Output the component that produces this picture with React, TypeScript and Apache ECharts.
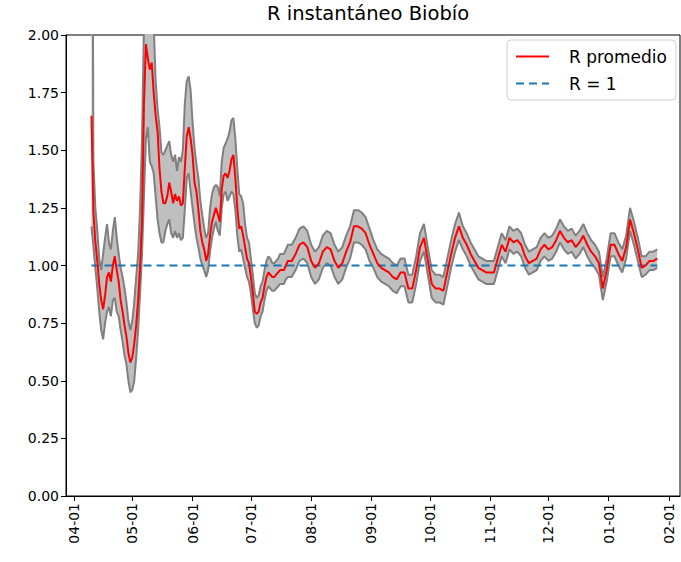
import React, { useEffect, useRef } from "react";
import * as echarts from "echarts";

// Day offsets counted from 2020-04-01
const START_Y = 2020;
const START_M = 3; // April (0-based)
const START_D = 1;

const DAYS = [
  9, 10, 11, 12, 13, 14, 15, 16, 17, 18, 19, 20, 21, 22, 23, 24, 25, 26, 27, 28, 29,
  30, 31, 32, 33, 34, 35, 36, 37, 38, 39, 40, 41, 42, 43, 44, 45, 46, 47, 48, 49,
  50, 51, 52, 53, 54, 55, 56, 57, 58, 59, 60, 61, 62, 63, 64, 65, 66, 67, 68, 69,
  70, 71, 72, 73, 74, 75, 76, 77, 78, 79, 80, 81, 82, 83, 84, 85, 86, 87, 88, 89,
  90, 91, 92, 93, 94, 95, 96, 97, 98, 99, 100, 101, 102, 103, 104, 105, 106, 107, 108, 109,
  110, 112, 114, 116, 118, 120, 122, 124, 126, 128, 130, 132, 134, 136, 138, 140, 142, 144, 146, 148,
  150, 152, 154, 156, 158, 160, 162, 164, 166, 168, 170, 172, 174, 176, 178, 180, 182, 184, 186, 188,
  190, 192, 194, 196, 198, 200, 202, 204, 206, 208, 210, 212, 214, 216, 218, 220, 222, 224, 226, 228,
  230, 232, 234, 236, 238, 240, 242, 244, 246, 248, 250, 252, 254, 256, 258, 260, 262, 264, 266, 268,
  270, 272, 274, 276, 278, 280, 282, 284, 286, 288, 290, 292, 294, 296, 298, 300,
];

const MEAN = [
  1.65, 1.23, 1.10, 1.02, 0.92, 0.85, 0.81, 0.87, 0.95, 0.97, 0.93, 1.00, 1.04, 0.98, 0.93, 0.85, 0.80, 0.74, 0.69, 0.62, 0.58,
  0.60, 0.66, 0.74, 0.85, 1.00, 1.20, 1.70, 1.96, 1.90, 1.85, 1.88, 1.75, 1.65, 1.58, 1.42, 1.32, 1.27, 1.27, 1.30, 1.36,
  1.32, 1.27, 1.31, 1.28, 1.30, 1.26, 1.27, 1.42, 1.56, 1.60, 1.55, 1.48, 1.36, 1.32, 1.24, 1.15, 1.10, 1.07, 1.02, 1.05,
  1.13, 1.19, 1.22, 1.25, 1.22, 1.19, 1.33, 1.39, 1.40, 1.38, 1.41, 1.46, 1.48, 1.38, 1.25, 1.16, 1.17, 1.13, 1.08, 1.03,
  1.01, 0.95, 0.88, 0.80, 0.79, 0.80, 0.84, 0.86, 0.91, 0.95, 0.97, 0.96, 0.95, 0.95, 0.96, 0.97, 0.98, 0.98, 0.98, 1.00,
  1.02, 1.02, 1.05, 1.09, 1.10, 1.08, 1.02, 0.99, 1.01, 1.06, 1.08, 1.07, 1.02, 0.99, 1.01, 1.06, 1.10, 1.17, 1.17, 1.16,
  1.14, 1.09, 1.05, 1.01, 0.99, 0.98, 0.97, 0.95, 0.94, 0.97, 0.97, 0.90, 0.90, 0.98, 1.08, 1.12, 1.02, 0.92, 0.90, 0.90,
  0.89, 0.97, 1.05, 1.12, 1.17, 1.12, 1.09, 1.05, 1.02, 0.99, 0.98, 0.97, 0.97, 0.97, 1.03, 1.09, 1.06, 1.12, 1.10, 1.11,
  1.09, 1.04, 1.01, 1.02, 1.03, 1.07, 1.09, 1.07, 1.08, 1.11, 1.15, 1.12, 1.10, 1.11, 1.08, 1.10, 1.13, 1.09, 1.06, 1.04,
  1.01, 0.90, 0.98, 1.09, 1.09, 1.05, 1.02, 1.08, 1.20, 1.14, 1.07, 0.99, 1.00, 1.02, 1.02, 1.03,
];

const LOWER = [
  1.17, 1.08, 0.99, 0.90, 0.80, 0.72, 0.68, 0.75, 0.80, 0.82, 0.78, 0.85, 0.86, 0.80, 0.78, 0.72, 0.67, 0.61, 0.57, 0.50, 0.45,
  0.46, 0.50, 0.60, 0.72, 0.88, 1.05, 1.30, 1.55, 1.60, 1.45, 1.43, 1.40, 1.30, 1.20, 1.14, 1.10, 1.10, 1.15, 1.18, 1.20,
  1.14, 1.12, 1.15, 1.12, 1.14, 1.11, 1.12, 1.24, 1.38, 1.40, 1.32, 1.25, 1.18, 1.12, 1.08, 1.03, 1.00, 0.98, 0.95, 0.98,
  1.06, 1.12, 1.16, 1.19, 1.15, 1.13, 1.25, 1.31, 1.32, 1.28, 1.30, 1.32, 1.31, 1.24, 1.13, 1.06, 1.07, 1.03, 0.99, 0.95,
  0.93, 0.88, 0.81, 0.75, 0.73, 0.74, 0.78, 0.80, 0.85, 0.89, 0.91, 0.90, 0.89, 0.89, 0.90, 0.91, 0.92, 0.92, 0.92, 0.94,
  0.95, 0.95, 0.98, 1.02, 1.03, 1.01, 0.95, 0.92, 0.94, 0.99, 1.01, 1.00, 0.95, 0.92, 0.94, 0.99, 1.03, 1.10, 1.10, 1.09,
  1.07, 1.02, 0.99, 0.95, 0.93, 0.92, 0.91, 0.89, 0.88, 0.91, 0.91, 0.84, 0.84, 0.92, 1.02, 1.06, 0.96, 0.86, 0.84, 0.84,
  0.83, 0.91, 0.99, 1.06, 1.11, 1.07, 1.04, 1.00, 0.97, 0.94, 0.93, 0.92, 0.92, 0.92, 0.98, 1.04, 1.01, 1.07, 1.05, 1.06,
  1.04, 0.99, 0.96, 0.97, 0.98, 1.02, 1.04, 1.02, 1.03, 1.06, 1.10, 1.07, 1.05, 1.06, 1.03, 1.05, 1.08, 1.04, 1.01, 0.99,
  0.96, 0.85, 0.93, 1.04, 1.04, 1.00, 0.97, 1.03, 1.15, 1.09, 1.02, 0.95, 0.96, 0.98, 0.98, 0.99,
];

const UPPER = [
  4.00, 1.45, 1.25, 1.15, 1.03, 0.98, 1.05, 1.12, 1.18, 1.10, 1.07, 1.15, 1.21, 1.12, 1.05, 0.99, 0.95, 0.90, 0.84, 0.76, 0.72,
  0.76, 0.84, 0.95, 1.05, 1.25, 1.55, 2.05, 2.40, 2.35, 2.25, 2.15, 2.05, 1.80, 1.68, 1.60, 1.49, 1.48, 1.50, 1.52, 1.54,
  1.48, 1.45, 1.48, 1.41, 1.47, 1.45, 1.50, 1.70, 1.80, 1.82, 1.76, 1.62, 1.51, 1.44, 1.38, 1.28, 1.22, 1.16, 1.12, 1.14,
  1.25, 1.31, 1.34, 1.35, 1.34, 1.30, 1.45, 1.51, 1.53, 1.55, 1.58, 1.63, 1.64, 1.55, 1.42, 1.31, 1.30, 1.27, 1.18, 1.12,
  1.10, 1.03, 0.96, 0.88, 0.86, 0.87, 0.91, 0.93, 0.98, 1.02, 1.04, 1.03, 1.01, 1.01, 1.02, 1.03, 1.05, 1.05, 1.05, 1.07,
  1.09, 1.09, 1.12, 1.16, 1.17, 1.15, 1.09, 1.06, 1.08, 1.13, 1.15, 1.14, 1.09, 1.06, 1.08, 1.13, 1.17, 1.24, 1.24, 1.23,
  1.21, 1.16, 1.11, 1.07, 1.05, 1.04, 1.03, 1.01, 1.00, 1.03, 1.03, 0.96, 0.96, 1.04, 1.14, 1.18, 1.08, 0.98, 0.96, 0.96,
  0.95, 1.03, 1.11, 1.18, 1.23, 1.17, 1.14, 1.10, 1.07, 1.04, 1.03, 1.02, 1.02, 1.02, 1.08, 1.14, 1.11, 1.17, 1.15, 1.16,
  1.14, 1.09, 1.06, 1.07, 1.08, 1.12, 1.14, 1.12, 1.13, 1.16, 1.20, 1.17, 1.15, 1.16, 1.13, 1.15, 1.18, 1.14, 1.11, 1.09,
  1.06, 0.95, 1.03, 1.14, 1.14, 1.10, 1.07, 1.13, 1.25, 1.19, 1.12, 1.04, 1.04, 1.06, 1.06, 1.07,
];

const REF_VALUE = 1;
const Y_TICKS = [0, 0.25, 0.5, 0.75, 1, 1.25, 1.5, 1.75, 2];
const AXIS_MIN_DAY = -4.1;
const AXIS_MAX_DAY = 311.7;

const DAY_MS = 86400000;
const FONT = "DejaVu Sans";

function dayToTime(d: number): number {
  return new Date(START_Y, START_M, START_D).getTime() + d * DAY_MS;
}

export default function App() {
  const ref = useRef<HTMLDivElement>(null);

  useEffect(() => {
    if (!ref.current) return;
    const chart = echarts.init(ref.current, undefined, { renderer: "svg" });

    const xs = DAYS.map(dayToTime);
    const lowerData = xs.map((t, i) => [t, LOWER[i]]);
    const spanData = xs.map((t, i) => [t, +(UPPER[i] - LOWER[i]).toFixed(3)]);
    const meanData = xs.map((t, i) => [t, MEAN[i]]);
    const refData = [
      [xs[0], REF_VALUE],
      [xs[xs.length - 1], REF_VALUE],
    ];

    const pad = (n: number) => (n < 10 ? "0" + n : "" + n);

    chart.setOption({
      animation: false,
      backgroundColor: "#ffffff",
      title: {
        text: "R instantáneo Biobío",
        left: 267,
        top: 3,
        padding: 0,
        textStyle: { fontFamily: FONT, fontSize: 19.5, fontWeight: "normal", color: "#000" },
      },
      legend: {
        orient: "vertical",
        left: 507,
        top: 40,
        data: ["R promedio", "R = 1"],
        itemWidth: 33,
        itemHeight: 14,
        itemGap: 10,
        padding: [8, 9, 8, 8],
        borderColor: "#d0d0d0",
        borderWidth: 1,
        borderRadius: 4,
        backgroundColor: "rgba(255,255,255,0.85)",
        itemStyle: { opacity: 0 },
        lineStyle: { width: 2 },
        textStyle: { fontFamily: FONT, fontSize: 17, color: "#000", padding: [0, 0, 0, 15] },
      },
      grid: {
        left: 66,
        top: 35,
        right: 1,
        bottom: 66,
        show: true,
        borderColor: "#000",
        borderWidth: 1,
        backgroundColor: "transparent",
      },
      xAxis: {
        type: "time",
        min: dayToTime(AXIS_MIN_DAY),
        max: dayToTime(AXIS_MAX_DAY),
        minInterval: 28 * DAY_MS,
        maxInterval: 31 * DAY_MS,
        splitLine: { show: false },
        axisLine: { lineStyle: { color: "#000", width: 1 } },
        axisTick: { show: true, length: 5, lineStyle: { color: "#000" } },
        axisLabel: {
          rotate: 90,
          fontFamily: FONT,
          fontSize: 14,
          color: "#000",
          margin: 7,
          hideOverlap: false,
          formatter: (v: number) => {
            const d = new Date(v);
            return pad(d.getMonth() + 1) + "-" + pad(d.getDate());
          },
        },
      },
      yAxis: {
        type: "value",
        min: Y_TICKS[0],
        max: Y_TICKS[Y_TICKS.length - 1],
        interval: 0.25,
        splitLine: { show: false },
        axisLine: { show: true, lineStyle: { color: "#000", width: 1 } },
        axisTick: { show: true, length: 5, lineStyle: { color: "#000" } },
        axisLabel: {
          fontFamily: FONT,
          fontSize: 14,
          color: "#000",
          margin: 7,
          formatter: (v: number) => v.toFixed(2),
        },
      },
      series: [
        {
          name: "lower",
          type: "line",
          stack: "band",
          data: lowerData,
          symbol: "none",
          clip: true,
          z: 3,
          lineStyle: { color: "#808080", width: 2 },
          itemStyle: { color: "#808080" },
        },
        {
          name: "band",
          type: "line",
          stack: "band",
          data: spanData,
          symbol: "none",
          clip: true,
          z: 2,
          lineStyle: { color: "#808080", width: 2 },
          itemStyle: { color: "#808080" },
          areaStyle: { color: "#bfbfbf", opacity: 1 },
        },
        {
          name: "R = 1",
          type: "line",
          data: refData,
          symbol: "none",
          clip: true,
          z: 4,
          lineStyle: { color: "#1f77b4", width: 1.8, type: [8, 5] },
          itemStyle: { color: "#1f77b4" },
        },
        {
          name: "R promedio",
          type: "line",
          data: meanData,
          symbol: "none",
          clip: true,
          z: 5,
          lineStyle: { color: "#ff0000", width: 2 },
          itemStyle: { color: "#ff0000" },
        },
      ],
    });

    return () => chart.dispose();
  }, []);

  return (
    <div
      ref={ref}
      style={{ position: "fixed", left: 0, top: 0, width: 681, height: 562, background: "#fff" }}
    />
  );
}
